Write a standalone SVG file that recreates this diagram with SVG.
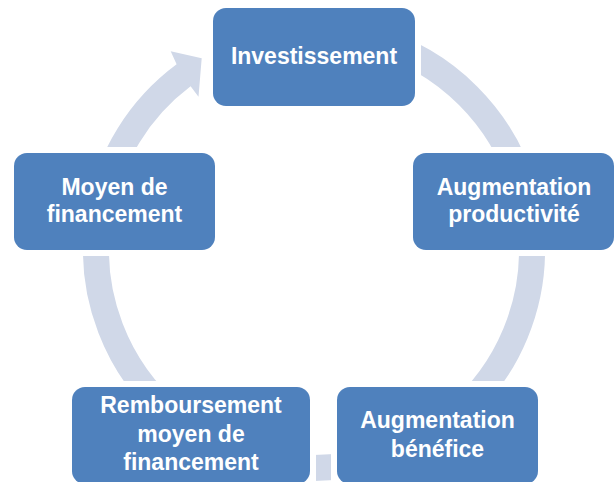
<svg xmlns="http://www.w3.org/2000/svg" width="614" height="482" viewBox="0 0 614 482">
<style>
.node{fill:#4F81BD;}
.lbl{font-family:"Liberation Sans",Arial,sans-serif;font-weight:bold;font-size:23px;fill:#FFFFFF;text-anchor:middle;}
.arc{fill:none;stroke:#D0D8E8;stroke-width:26;stroke-linecap:butt;}
.arcf{fill:#D0D8E8;stroke:none;}
</style>
<defs>
<mask id="gap" maskUnits="userSpaceOnUse" x="0" y="0" width="614" height="482">
<rect x="0" y="0" width="614" height="482" fill="#fff"/>
<rect x="207" y="2" width="214" height="110" fill="#000"/>
<rect x="407" y="147" width="213" height="109" fill="#000"/>
<rect x="331" y="381" width="213" height="109" fill="#000"/>
<rect x="66" y="381" width="250" height="109" fill="#000"/>
<rect x="8" y="147" width="213" height="109" fill="#000"/>
</mask>
</defs>
<rect x="0" y="0" width="614" height="482" fill="#FFFFFF"/>
<g id="connectors" mask="url(#gap)">
<path class="arc" d="M370.4,39.4 A218,218 0 0 1 524.6,193.6"/>
<path class="arc" d="M531.2,231.0 A218,218 0 0 1 454.1,417.0"/>
<path class="arc" d="M388.6,454.9 A218,218 0 0 1 239.4,454.9"/>
<path class="arc" d="M173.9,417.0 A218,218 0 0 1 98.1,219.7"/>
<path class="arcf" d="M86.5,209.9 A231,231 0 0 1 176.6,64.3 L170.7,51.3 L201.7,58.3 L198.5,96.7 L190.6,86.3 A205,205 0 0 0 112.1,214.4 Z"/>
</g>
<g id="n1">
<rect class="node" x="213" y="8" width="202" height="98" rx="13"/>
<text class="lbl" x="314" y="64">Investissement</text>
</g>
<g id="n2">
<rect class="node" x="413" y="153" width="201" height="97" rx="13"/>
<text class="lbl" x="514" y="195">Augmentation</text>
<text class="lbl" x="514" y="222">productivité</text>
</g>
<g id="n3">
<rect class="node" x="337" y="387" width="201" height="97" rx="13"/>
<text class="lbl" x="437.5" y="428">Augmentation</text>
<text class="lbl" x="437.5" y="457">bénéfice</text>
</g>
<g id="n4">
<rect class="node" x="72" y="387" width="238" height="97" rx="13"/>
<text class="lbl" x="191" y="413">Remboursement</text>
<text class="lbl" x="191" y="442">moyen de</text>
<text class="lbl" x="191" y="470">financement</text>
</g>
<g id="n5">
<rect class="node" x="14" y="153" width="201" height="97" rx="13"/>
<text class="lbl" x="114.5" y="195">Moyen de</text>
<text class="lbl" x="114.5" y="222">financement</text>
</g>
</svg>
